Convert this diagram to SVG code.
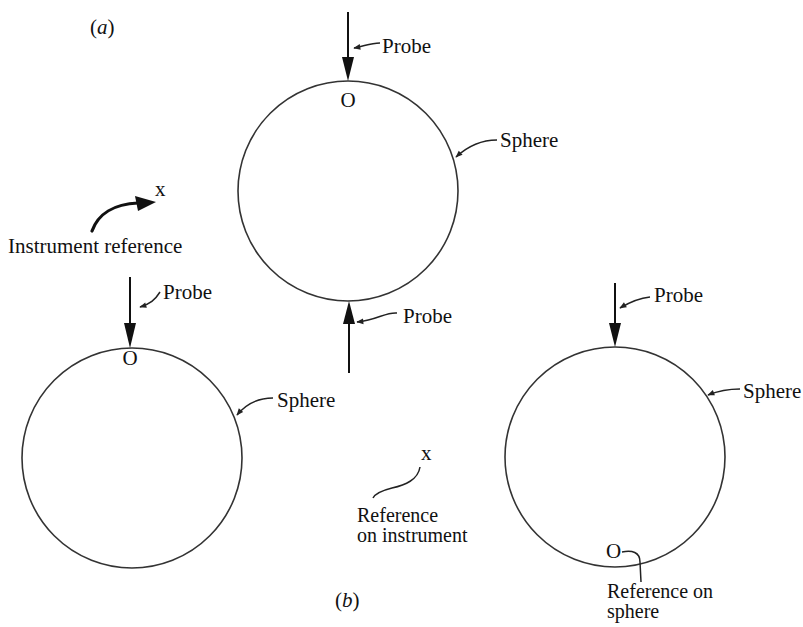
<svg xmlns="http://www.w3.org/2000/svg" width="803" height="627" viewBox="0 0 803 627">
  <style>
    .sphere { fill: none; stroke: #333; stroke-width: 1.6; }
    .probe { fill: none; stroke: #111; stroke-width: 2; }
    .head { fill: #111; stroke: none; }
    .leader { fill: none; stroke: #222; stroke-width: 1.5; marker-end: url(#tip); }
    .lead-plain { fill: none; stroke: #222; stroke-width: 1.5; }
    .lbl { font-family: "Liberation Serif", "Times New Roman", serif; font-size: 21px; fill: #111; }
    .sub { font-family: "Liberation Serif", "Times New Roman", serif; font-size: 20px; fill: #111; }
  </style>
  <defs>
    <marker id="tip" viewBox="0 0 10 10" refX="9" refY="5" markerWidth="8" markerHeight="7" markerUnits="userSpaceOnUse" orient="auto">
      <path d="M0,1 L10,5 L0,9 Z" fill="#222"/>
    </marker>
  </defs>
  <rect width="803" height="627" fill="#fff"/>

  <text class="lbl" x="90" y="34">(<tspan font-style="italic">a</tspan>)</text>
  <text class="lbl" x="335" y="607">(<tspan font-style="italic">b</tspan>)</text>

  <!-- (a): sphere between two opposing probes -->
  <g id="sphere-a">
    <circle class="sphere" cx="348" cy="191" r="110"/>
    <text class="lbl" x="348" y="107" text-anchor="middle">O</text>
  </g>
  <g id="probe-a-top">
    <line class="probe" x1="348" y1="12" x2="348" y2="60"/>
    <polygon class="head" points="342,57 354,57 348,81"/>
    <text class="lbl" x="382" y="53">Probe</text>
  </g>
  <g id="probe-a-bottom">
    <line class="probe" x1="349" y1="373" x2="349" y2="322"/>
    <polygon class="head" points="343,324 355,324 349,301"/>
    <text class="lbl" x="403" y="323">Probe</text>
  </g>
  <g id="label-a-sphere">
    <text class="lbl" x="500" y="147">Sphere</text>
  </g>

  <!-- (b) left: instrument reference -->
  <g id="instrument-reference">
    <path d="M92,231 C98,214 114,204 138,203" fill="none" stroke="#111" stroke-width="3.2" stroke-linecap="round"/>
    <polygon class="head" points="135,196 156,202 138,211"/>
    <text class="lbl" x="155" y="196">x</text>
    <text class="lbl" x="8" y="253">Instrument reference</text>
  </g>
  <g id="sphere-b-left">
    <circle class="sphere" cx="132" cy="458" r="110"/>
    <text class="lbl" x="130" y="365" text-anchor="middle">O</text>
  </g>
  <g id="probe-b-left">
    <line class="probe" x1="130" y1="277" x2="130" y2="326"/>
    <polygon class="head" points="124,323 136,323 130,348"/>
    <text class="lbl" x="163" y="299">Probe</text>
  </g>
  <g id="label-b-left-sphere">
    <text class="lbl" x="277" y="407">Sphere</text>
  </g>

  <!-- (b) middle: reference on instrument -->
  <g id="reference-on-instrument">
    <text class="lbl" x="421" y="460">x</text>
    <path class="lead-plain" d="M420,467 C418,480 405,485 392,488 C380,491 375,494 373,498"/>
    <text class="sub" x="357" y="522">Reference</text>
    <text class="sub" x="357" y="542">on instrument</text>
  </g>

  <!-- (b) right: reference on sphere -->
  <g id="sphere-b-right">
    <circle class="sphere" cx="615" cy="457" r="110"/>
    <text class="lbl" x="606" y="558">O</text>
  </g>
  <g id="probe-b-right">
    <line class="probe" x1="615" y1="283" x2="615" y2="326"/>
    <polygon class="head" points="609,323 621,323 615,347"/>
    <text class="lbl" x="654" y="302">Probe</text>
  </g>
  <g id="label-b-right-sphere">
    <text class="lbl" x="743" y="398">Sphere</text>
  </g>
  <g id="reference-on-sphere">
    <text class="sub" x="607" y="598">Reference on</text>
    <text class="sub" x="607" y="618">sphere</text>
  </g>

  <!-- leader lines -->
  <g id="leaders">
    <path class="leader" d="M380,43 C370,43 365,46 354,48"/>
    <path class="leader" d="M497,140 C480,140 468,146 456,157"/>
    <path class="leader" d="M397,313 C385,312 378,320 357,322"/>
    <path class="leader" d="M160,292 C155,300 150,304 140,307"/>
    <path class="leader" d="M273,398 C258,398 246,404 237,415"/>
    <path class="leader" d="M650,297 C640,298 630,302 620,308"/>
    <path class="leader" d="M740,389 C728,389 718,391 708,395"/>
    <path class="lead-plain" d="M622,552 C632,550 640,552 640,562 L641,582"/>
  </g>
</svg>
